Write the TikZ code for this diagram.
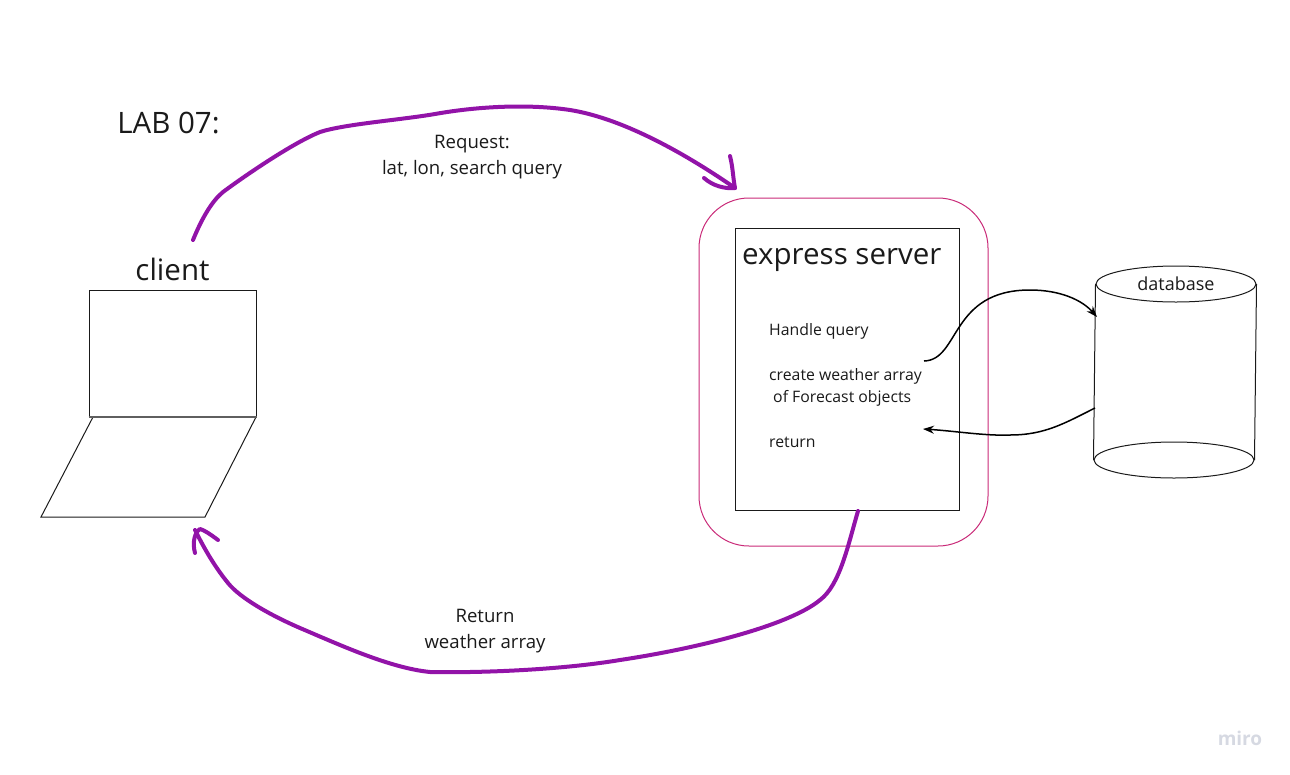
\documentclass[tikz,border=0pt]{standalone}
\usepackage{fontspec}
\setmainfont{Open Sans}
\usetikzlibrary{shapes.geometric,positioning,arrows.meta}
\definecolor{sketchpurple}{HTML}{9213A8}
\definecolor{boxpink}{HTML}{C92A78}
\definecolor{inkgray}{HTML}{1A1A1A}
\definecolor{miromark}{HTML}{D6D9E2}
\tikzset{
  x=1pt, y=-1pt,
  % Boxes
  thinbox/.style = {draw=inkgray, line width=1pt, inner sep=0pt},
  % Text
  bigtext/.style   = {font=\fontsize{29.5}{36}\selectfont, text=inkgray, inner sep=0pt},
  smalltext/.style = {font=\fontsize{15.8}{22}\selectfont, text=inkgray, inner sep=0pt, align=left, anchor=west},
  edgetext/.style  = {font=\fontsize{18.6}{26}\selectfont, text=inkgray, inner sep=0pt, align=center},
  % Lines
  sketch line/.style = {draw=sketchpurple, line width=4pt, line cap=round, line join=round},
  db line/.style     = {draw=black, line width=1.5pt, -{Stealth[length=11pt,width=8pt]}},
}
\begin{document}
\begin{tikzpicture}
    \useasboundingbox (0,0) rectangle (1290,774);

    \node[bigtext] (title) at (168.5,123) {LAB 07:};

    % laptop
    \node[thinbox, minimum width=167pt, minimum height=126pt] (screen) at (172.5,353) {};
    \node[bigtext, above = 9pt of screen] (client) {client};
    \draw[draw=inkgray, line width=1pt] (93,417) -- (256,417) -- (205,517) -- (41,517) -- cycle;
    \draw[draw=inkgray!70, line width=2pt] (screen.south west) -- (screen.south east);

    % server
    \node[draw=boxpink, line width=1pt, rounded corners=50pt, minimum width=289pt, minimum height=348pt] (outer) at (843.5,372) {};
    \node[thinbox, minimum width=224pt, minimum height=282pt] (server) at (847,369) {};
    \node[bigtext, anchor=west] (server-title) at (742,260) {express server};
    \node[smalltext] (handle) at (769,331) {Handle query};
    \node[smalltext] (create) at (769,387) {create weather array\\\hspace{4pt}of Forecast objects};
    \node[smalltext] (return) at (769,442) {return};

    % database
    \node[ellipse, thinbox, minimum width=160pt, minimum height=36pt] (db-top) at (1176,284) {};
    \node[font=\fontsize{18}{22}\selectfont, text=inkgray, inner sep=0pt] (db-label) at (db-top) {database};
    \node[ellipse, thinbox, minimum width=160pt, minimum height=36pt] (db-bot) at (1174,460) {};
    \draw[draw=inkgray, line width=1pt] (db-top.west) -- (db-bot.west) (db-top.east) -- (db-bot.east);

    % edge labels
    \node[edgetext] (request) at (472,157) {Request:\\lat, lon, search query};
    \node[edgetext] (answer)  at (485,631) {Return\\weather array};
    \node[font=\bfseries\fontsize{19}{22}\selectfont, text=miromark, inner sep=0pt] (miro) at (1240,738) {miro};

    % free ends of the connectors
    \coordinate (req-from) at (193,240);
    \coordinate (req-to)   at (735,188);
    \coordinate (ret-from) at (858,511);
    \coordinate (ret-to)   at (195,530);
    \coordinate (db-in-from)  at (924,361);
    \coordinate (db-in-to)    at (1097,317);
    \coordinate (db-out-from) at (1095,408);
    \coordinate (db-out-to)   at (923,429);

    \begin{scope}[sketch line]
      \draw (req-from) .. controls (202,218) and (212,201) .. (223,192)
        .. controls (250,172) and (295,142) .. (320,132)
        .. controls (345,124) and (400,120) .. (435,114)
        .. controls (480,106) and (530,104) .. (570,110)
        .. controls (620,118) and (680,150) .. (req-to);
      \draw (730,156) .. controls (733,168) and (733,178) .. (req-to)
        .. controls (725,189) and (713,186) .. (704,178);
      \draw (ret-from) .. controls (848,545) and (840,585) .. (820,600)
        .. controls (790,625) and (700,648) .. (620,660)
        .. controls (560,670) and (480,673) .. (430,672)
        .. controls (390,668) and (340,645) .. (300,628)
        .. controls (270,615) and (240,598) .. (228,583)
        .. controls (215,567) and (205,550) .. (ret-to);
      \draw (218,540) .. controls (210,534) and (204,530) .. (200,529)
        .. controls (195,532) and (192,542) .. (195,553);
    \end{scope}

    \draw[db line] (db-in-from) .. controls (960,360) and (950,290) .. (1030,290)
        .. controls (1060,290) and (1082,300) .. (db-in-to);
    \draw[db line] (db-out-from) .. controls (1065,423) and (1045,435) .. (1010,435)
        .. controls (985,436) and (955,431) .. (db-out-to);
\end{tikzpicture}
\end{document}
